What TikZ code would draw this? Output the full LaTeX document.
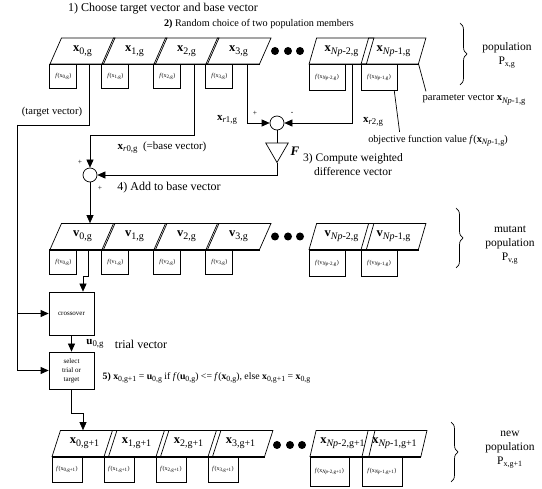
\documentclass[tikz,border=0pt]{standalone}
\usepackage{fontspec}
\setmainfont{Liberation Serif}
\usetikzlibrary{arrows.meta,positioning,shapes.geometric,decorations.pathreplacing,calc}
\newcommand{\vx}[2]{\textbf{#1}\raisebox{-.45ex}{\scalebox{.8}{#2}}}
\newcommand{\Np}{\textit{Np}}
\newcommand{\fv}[2]{\textit{f}(#1\textsubscript{#2})}
\newcommand{\fsz}[1]{\fontsize{#1}{#1}\selectfont}
\tikzset{
  cell/.style = {draw, trapezium, trapezium left angle=64, trapezium right angle=116,
                 trapezium stretches=true, minimum width=65pt, minimum height=26pt,
                 inner sep=0pt, font=\fsz{12.5}},
  fbox/.style = {draw, minimum width=27pt, minimum height=24pt, inner sep=0pt,
                 font=\fsz{6}},
  wide/.style = {minimum width=36pt, minimum height=26pt},
  box/.style  = {draw, minimum width=45pt, align=center, inner sep=1pt,
                 font=\fontsize{7}{9}\selectfont},
  sum/.style  = {draw, circle, minimum size=14pt, inner sep=0pt},
  amp/.style  = {draw, regular polygon, regular polygon sides=3, shape border rotate=180,
                 minimum size=26pt, inner sep=0pt},
  base/.style = {line width=1.6pt},
  ar/.style   = {-{Triangle[length=8pt,width=7pt]}},
  brc/.style  = {decorate, decoration={brace, amplitude=7pt}},
  sgn/.style  = {font=\fsz{7.5}, inner sep=0pt},
  lbl/.style  = {align=center, font=\fontsize{11.5}{14}\selectfont}
}
\begin{document}
\begin{tikzpicture}[x=1pt, y=-1pt, line width=0.7pt, font=\fsz{11}]
  \useasboundingbox (0,0) rectangle (542,489);

  \node[font=\fsz{12}] (cap1) at (163,9) {1) Choose target vector and base vector};
  \node[font=\fsz{10.2}] (cap2) at (259,24) {\textbf{2)} Random choice of two population members};

  % population P_x,g
  \foreach \i in {0,...,3} {
    \node[cell] (x\i) at ({82.5+52*\i},51) {\vx{x}{\i,g}};
    \node[fbox, anchor=north west] (fx\i) at (x\i.bottom left corner) {\fv{x}{\i,g}};
  }
  \node[cell] (xN2) at (341.5,51) {\vx{x}{\Np-2,g}};
  \node[cell] (xN1) at (393.5,51) {\vx{x}{\Np-1,g}};
  \node[fbox, wide, anchor=north west] (fxN2) at (xN2.bottom left corner) {\fv{x}{\Np-2,g}};
  \node[fbox, wide, anchor=north west] (fxN1) at (xN1.bottom left corner) {\fv{x}{\Np-1,g}};
  \draw[base] (x0.bottom left corner) -- (x3.bottom right corner);
  \draw[base] (xN2.bottom left corner) -- (xN1.bottom right corner);
  \foreach \d in {275,288,300} \fill (\d,51) circle (4pt);
  \draw[brc] (460,23) -- (460,85);
  \node[lbl] (popx) at (507,55) {population\\P\textsubscript{x,g}};

  \node[font=\fsz{10.6}] (pv) at (474,100) {parameter vector \vx{x}{\Np-1,g}};
  \node[font=\fsz{10.2}] (ofv) at (438,141) {objective function value \textit{f}(\vx{x}{\Np-1,g})};
  \draw (xN1.bottom right corner) -- ([xshift=7pt]pv.north west);
  \draw ([xshift=-3pt]fxN1.south east) -- ([xshift=35pt]ofv.north west);

  % difference and mutation
  \node[sum] (diff) at (277,123) {};
  \node[amp] (amp) at (277,149.5) {};
  \node[sum] (add) at (90,175) {};
  \coordinate (r1) at (247,64);
  \coordinate (r2) at (352,64);
  \coordinate (r0) at (194,64);
  \coordinate (r0bend) at (90,135);
  \draw[ar] (r1) |- (diff.west);
  \draw[ar] (r2) |- (diff.east);
  \draw (diff) -- (amp.north);
  \draw[ar] (amp.south) |- (add.east);
  \draw[ar] (r0) |- (r0bend) -- (add.north);

  \node (lr1) at (227,120) {\vx{x}{\textit{r}1,g}};
  \node (lr2) at (373,122) {\vx{x}{\textit{r}2,g}};
  \node (lr0) at (162,148) {\vx{x}{\textit{r}0,g}\ \ (=base vector)};
  \node[sgn] (p1) at (255,113) {+};
  \node[sgn] (m1) at (292,113) {-};
  \node[sgn] (p2) at (80,162) {+};
  \node[sgn] (p3) at (100,188) {+};
  \node[font=\fsz{13}\bfseries\itshape] (Fl) at (295,151) {F};
  \node[align=center, font=\fontsize{11.5}{14}\selectfont] (cap3) at (353,165)
    {3) Compute weighted\\difference vector};
  \node[font=\fsz{12}] (cap4) at (169,188) {4) Add to base vector};

  \coordinate (tgt) at (89,64);
  \coordinate (tgtbend) at (17,125);
  \draw (tgt) |- (tgtbend);
  \node[font=\fsz{10.6}] (ltgt) at (52,112) {(target vector)};

  % mutant population P_v,g
  \foreach \i in {0,...,3} {
    \node[cell] (v\i) at ({82.5+52*\i},236.5) {\vx{v}{\i,g}};
    \node[fbox, anchor=north west] (fv\i) at (v\i.bottom left corner) {\fv{v}{\i,g}};
  }
  \node[cell] (vN2) at (341.5,236.5) {\vx{v}{\Np-2,g}};
  \node[cell] (vN1) at (393.5,236.5) {\vx{v}{\Np-1,g}};
  \node[fbox, wide, anchor=north west] (fvN2) at (vN2.bottom left corner) {\fv{v}{\Np-2,g}};
  \node[fbox, wide, anchor=north west] (fvN1) at (vN1.bottom left corner) {\fv{v}{\Np-1,g}};
  \draw[base] (v0.bottom left corner) -- (v3.bottom right corner);
  \draw[base] (vN2.bottom left corner) -- (vN1.bottom right corner);
  \foreach \d in {275,288,300} \fill (\d,236.5) circle (4pt);
  \draw[brc] (456,208) -- (456,268);
  \node[lbl] (popv) at (510,245) {mutant\\population\\P\textsubscript{v,g}};
  \draw[ar] (add.south) -- (add.south |- v0.north);

  % crossover and selection
  \node[box, minimum height=43pt] (cross) at (71.5,313.5) {crossover};
  \node[box, minimum height=37pt] (select) at (71.5,370.5) {select\\trial or\\target};
  \coordinate (v0out) at (88,250);
  \coordinate (vbend) at (83,276);
  \draw[ar] (v0out) |- (vbend) -- (vbend |- cross.north);
  \draw[ar] (tgtbend) |- (cross.west);
  \draw[ar] (tgtbend) |- (select.west);
  \draw[ar] (cross) -- (select);
  \node (u0) at (95,344) {\vx{u}{0,g}};
  \node[right=4pt of u0, font=\fsz{12}] (trial) {trial vector};
  \node[anchor=west, font=\fsz{9.8}] (rule) at (99,378) {\textbf{5)} \vx{x}{0,g+1} = \vx{u}{0,g} if
    \textit{f}(\vx{u}{0,g}) <= \textit{f}(\vx{x}{0,g}), else \vx{x}{0,g+1} = \vx{x}{0,g}};

  % new population P_x,g+1
  \foreach \i in {0,...,3} {
    \node[cell] (n\i) at ({84.5+52*\i},443.5) {\vx{x}{\i,g+1}};
    \node[fbox, minimum width=30pt, minimum height=25pt, anchor=north west] (fn\i)
      at (n\i.bottom left corner) {\fv{x}{\i,g+1}};
  }
  \node[cell] (nN2) at (342.5,443.5) {\vx{x}{\Np-2,g+1}};
  \node[cell] (nN1) at (394.5,443.5) {\vx{x}{\Np-1,g+1}};
  \node[fbox, minimum width=39pt, minimum height=29pt, anchor=north west] (fnN2)
    at (nN2.bottom left corner) {\fv{x}{\Np-2,g+1}};
  \node[fbox, minimum width=40pt, minimum height=29pt, anchor=north west] (fnN1)
    at (nN1.bottom left corner) {\fv{x}{\Np-1,g+1}};
  \draw[base] (n0.bottom left corner) -- (n3.bottom right corner);
  \draw[base] (nN2.bottom left corner) -- (nN1.bottom right corner);
  \foreach \d in {277,290,302} \fill (\d,445) circle (4pt);
  \draw[brc] (451,422) -- (451,482);
  \node[lbl] (popn) at (510,450) {new\\population\\P\textsubscript{x,g+1}};
  \coordinate (sbend) at (83,413);
  \draw[ar] (select.south) |- (sbend) -- (sbend |- n0.north);
\end{tikzpicture}
\end{document}
